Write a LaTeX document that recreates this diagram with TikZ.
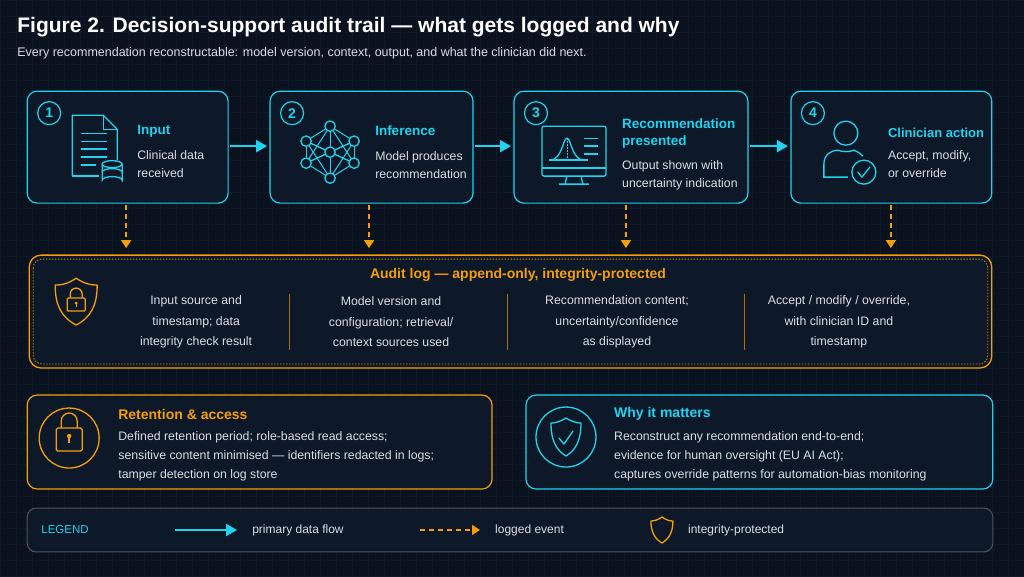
\documentclass[tikz,border=0pt]{standalone}
\usepackage{fontspec}
\setmainfont{Liberation Sans}
\usetikzlibrary{arrows.meta}
\definecolor{bg}{HTML}{0A1220}
\definecolor{boxbg}{HTML}{0D1928}
\definecolor{cy}{HTML}{22D3EE}
\definecolor{orn}{HTML}{F59E0B}
\definecolor{txt}{HTML}{D9DEE6}
\definecolor{grid}{HTML}{0F1928}
\begin{document}
\begin{tikzpicture}[x=1pt,y=-1pt,
  stepbox/.style={draw=cy,line width=1.2pt,rounded corners=10pt,fill=boxbg},
  num/.style={circle,draw=cy,line width=1.2pt,minimum size=23pt,inner sep=0pt,text=cy,font=\fontsize{14}{14}\selectfont\bfseries},
  ttl/.style={anchor=west,text=cy,font=\fontsize{13.5}{17}\selectfont\bfseries,align=left,inner sep=0pt},
  body/.style={anchor=west,text=txt,font=\fontsize{12.3}{18}\selectfont,align=left,inner sep=0pt},
  col/.style={text=txt,font=\fontsize{12.3}{20.5}\selectfont,align=center,inner sep=0pt},
  flow/.style={cy,line width=2pt,-{Triangle[length=11pt,width=12pt]}},
  logged/.style={orn,line width=1.4pt,dash pattern=on 5pt off 4pt,-{Triangle[length=8pt,width=10pt]}},
  ico/.style={cy,line width=1.3pt},
  oico/.style={orn,line width=1.3pt}]
\fill[bg] (0,0) rectangle (1024,576);
\foreach \i in {0,16,...,1024} \draw[grid,line width=0.4pt] (\i,0) -- (\i,576);
\foreach \j in {0,16,...,576} \draw[grid,line width=0.4pt] (0,\j) -- (1024,\j);
\useasboundingbox (0,0) rectangle (1024,576);

\node[anchor=west,text=white,font=\fontsize{21}{24}\selectfont\bfseries,inner sep=0pt] (title) at (17,27) {Figure 2. Decision-support audit trail — what gets logged and why};
\node[anchor=west,text=txt,font=\fontsize{12.5}{15}\selectfont,inner sep=0pt] (sub) at (17,53) {Every recommendation reconstructable: model version, context, output, and what the clinician did next.};

% step boxes
\draw[stepbox] (27,91) rectangle (228,203);
\draw[stepbox] (270,91) rectangle (473,203);
\draw[stepbox] (514,91) rectangle (748,203);
\draw[stepbox] (791,91) rectangle (992,203);
\node[num] (n1) at (49,113) {1};
\node[num] (n2) at (292,113) {2};
\node[num] (n3) at (536,113) {3};
\node[num] (n4) at (813,113) {4};

\node[ttl] (t1) at (137,131) {Input};
\node[body] (d1) at (137,164) {Clinical data\\received};
\node[ttl] (t2) at (375,131) {Inference};
\node[body] (d2) at (375,165) {Model produces\\recommendation};
\node[ttl] (t3) at (622,133) {Recommendation\\presented};
\node[body] (d3) at (622,175) {Output shown with\\uncertainty indication};
\node[ttl,font=\fontsize{13}{17}\selectfont\bfseries] (t4) at (888,133) {Clinician action};
\node[body] (d4) at (888,164) {Accept, modify,\\or override};

% flow arrows
\coordinate (a1s) at (230,146); \coordinate (a1e) at (267,146);
\coordinate (a2s) at (475,146); \coordinate (a2e) at (511,146);
\coordinate (a3s) at (750,146); \coordinate (a3e) at (788,146);
\draw[flow] (a1s) -- (a1e);
\draw[flow] (a2s) -- (a2e);
\draw[flow] (a3s) -- (a3e);

% icon 1: document + database
\draw[ico,line join=round] (72,176) -- (72,115) -- (103,115) -- (117,129) -- (117,160);
\draw[ico] (103,115) -- (103,129) -- (117,129);
\draw[ico] (72,176) -- (99,176);
\foreach \y in {133,141,149,157} \draw[ico] (81,\y) -- (107,\y);
\draw[ico] (81,165) -- (96,165);
\draw[ico,fill=boxbg] (102,164) -- (102,180) arc[start angle=180,end angle=360,x radius=10,y radius=3.5] -- (122,164);
\draw[ico,fill=boxbg] (112,164) ellipse[x radius=10,y radius=3.5];
\draw[ico] (102,172) arc[start angle=180,end angle=360,x radius=10,y radius=3.5];

% icon 2: network
\coordinate (na) at (330,126);
\coordinate (nb) at (306,141);
\coordinate (nc) at (354,141);
\coordinate (nd) at (330,152);
\coordinate (ne) at (306,163);
\coordinate (nf) at (354,163);
\coordinate (ng) at (330,178);
\foreach \u/\v in {na/nb,na/nc,na/nd,na/ne,na/nf,nb/nd,nc/nd,nb/ne,nc/nf,nb/nf,nc/ne,ne/nd,nf/nd,ne/ng,nf/ng,nd/ng,nb/ng,nc/ng}
  \draw[ico,line width=1pt] (\u) -- (\v);
\foreach \n in {na,nb,nc,nd,ne,nf,ng} \draw[ico,fill=boxbg] (\n) circle (5.2);

% icon 3: monitor with bell curve
\draw[ico,rounded corners=2pt] (542,126) rectangle (606,176);
\draw[ico] (542,168) -- (606,168);
\draw[ico] (567,176) -- (565,184) (581,176) -- (583,184) (559,184) -- (589,184);
\draw[ico] (550,160) .. controls (562,160) and (563,138) .. (567,138) .. controls (571,138) and (572,160) .. (584,160);
\draw[ico,line width=0.8pt,dash pattern=on 1.5pt off 1.5pt] (567,138) -- (567,160);
\draw[ico] (549,160) -- (588,160);
\draw[ico] (584,138) -- (598,138) (584,146) -- (598,146) (584,154) -- (598,154);

% icon 4: person + check
\draw[ico] (846,133) circle (12);
\draw[ico] (848,177) -- (824,177) -- (824,164) .. controls (824,154) and (832,150) .. (838,150) .. controls (842,152) and (850,152) .. (854,150) .. controls (857,151) and (860,153) .. (863,156);
\draw[ico,fill=boxbg] (864,172) circle (12);
\draw[ico,line cap=round,line join=round] (858,172) -- (862,177) -- (870,167);

% logged arrows
\coordinate (l1s) at (126,205); \coordinate (l1e) at (126,248);
\coordinate (l2s) at (369,205); \coordinate (l2e) at (369,248);
\coordinate (l3s) at (626,205); \coordinate (l3e) at (626,248);
\coordinate (l4s) at (891,205); \coordinate (l4e) at (891,248);
\draw[logged] (l1s) -- (l1e);
\draw[logged] (l2s) -- (l2e);
\draw[logged] (l3s) -- (l3e);
\draw[logged] (l4s) -- (l4e);

% audit log box
\draw[orn,line width=1.3pt,rounded corners=12pt,fill=boxbg] (29,255) rectangle (992,368);
\draw[orn!80!black,line width=0.8pt,dash pattern=on 1.5pt off 1.5pt,rounded corners=9pt] (33,259) rectangle (988,364);
\node[text=orn,font=\fontsize{14}{17}\selectfont\bfseries,inner sep=0pt] (atitle) at (518,275) {Audit log — append-only, integrity-protected};
\draw[oico,line join=round] (76,278) .. controls (84,284) and (92,285) .. (97,285) .. controls (97,305) and (91,317) .. (76,325) .. controls (61,317) and (55,305) .. (55,285) .. controls (60,285) and (68,284) .. (76,278) -- cycle;
\draw[oico] (70,298) -- (70,294) arc[start angle=180,end angle=360,radius=6] -- (82,298);
\draw[oico,rounded corners=1pt] (67,298) rectangle (85,311);
\fill[orn] (76,303) circle (1.6); \draw[orn,line width=1.2pt] (76,303) -- (76,307);
\node[col] (c1) at (196,322) {Input source and\\timestamp; data\\integrity check result};
\node[col] (c2) at (391,322) {Model version and\\configuration; retrieval/\\context sources used};
\node[col] (c3) at (617,322) {Recommendation content;\\uncertainty/confidence\\as displayed};
\node[col] (c4) at (839,322) {Accept / modify / override,\\with clinician ID and\\timestamp};
\draw[orn!70!black,line width=1pt] (289,294) -- (289,350) (507,294) -- (507,350) (745,294) -- (745,350);

% retention box
\draw[orn,line width=1.2pt,rounded corners=10pt,fill=boxbg] (27,395) rectangle (492,489);
\draw[oico] (69,438) circle (30);
\draw[oico] (61,428) -- (61,421) arc[start angle=180,end angle=360,radius=8] -- (77,428);
\draw[oico,rounded corners=1.5pt] (56,428) rectangle (82,451);
\fill[orn] (69,436) circle (2.2); \draw[orn,line width=1.5pt] (69,436) -- (69,443);
\node[anchor=west,text=orn,font=\fontsize{14}{17}\selectfont\bfseries,inner sep=0pt] (rt) at (118,414) {Retention \& access};
\node[body,font=\fontsize{12.3}{19}\selectfont] (rb) at (118,456) {Defined retention period; role-based read access;\\sensitive content minimised — identifiers redacted in logs;\\tamper detection on log store};

% why box
\draw[cy,line width=1.2pt,rounded corners=10pt,fill=boxbg] (526,395) rectangle (993,489);
\draw[ico] (566,437) circle (30);
\draw[ico,line join=round] (566,418) .. controls (572,422) and (578,423) .. (581,423) .. controls (581,440) and (576,450) .. (566,456) .. controls (556,450) and (551,440) .. (551,423) .. controls (554,423) and (560,422) .. (566,418) -- cycle;
\draw[ico,line cap=round,line join=round] (559,438) -- (564,444) -- (573,431);
\node[ttl,font=\fontsize{14}{17}\selectfont\bfseries] (wt) at (614,414) {Why it matters};
\node[body,font=\fontsize{12.3}{19}\selectfont] (wb) at (614,456) {Reconstruct any recommendation end-to-end;\\evidence for human oversight (EU AI Act);\\captures override patterns for automation-bias monitoring};

% legend
\draw[gray!60!bg,line width=1pt,rounded corners=9pt,fill=boxbg] (27,508) rectangle (993,552);
\node[anchor=west,text=cy,font=\fontsize{11.5}{14}\selectfont,inner sep=0pt] (lg) at (41,530) {LEGEND};
\coordinate (lf1) at (175,530); \coordinate (lf2) at (237,530);
\draw[flow] (lf1) -- (lf2);
\node[anchor=west,text=txt,font=\fontsize{12}{14}\selectfont,inner sep=0pt] (lgf) at (252,530) {primary data flow};
\coordinate (ll1) at (420,530); \coordinate (ll2) at (480,530);
\draw[logged] (ll1) -- (ll2);
\node[anchor=west,text=txt,font=\fontsize{12}{14}\selectfont,inner sep=0pt] (lgl) at (495,530) {logged event};
\draw[oico,line join=round] (662,517) .. controls (666,520) and (670,521) .. (673,521) .. controls (673,532) and (669,539) .. (662,543) .. controls (655,539) and (651,532) .. (651,521) .. controls (654,521) and (658,520) .. (662,517) -- cycle;
\node[anchor=west,text=txt,font=\fontsize{12}{14}\selectfont,inner sep=0pt] (lgi) at (688,530) {integrity-protected};
\end{tikzpicture}
\end{document}
